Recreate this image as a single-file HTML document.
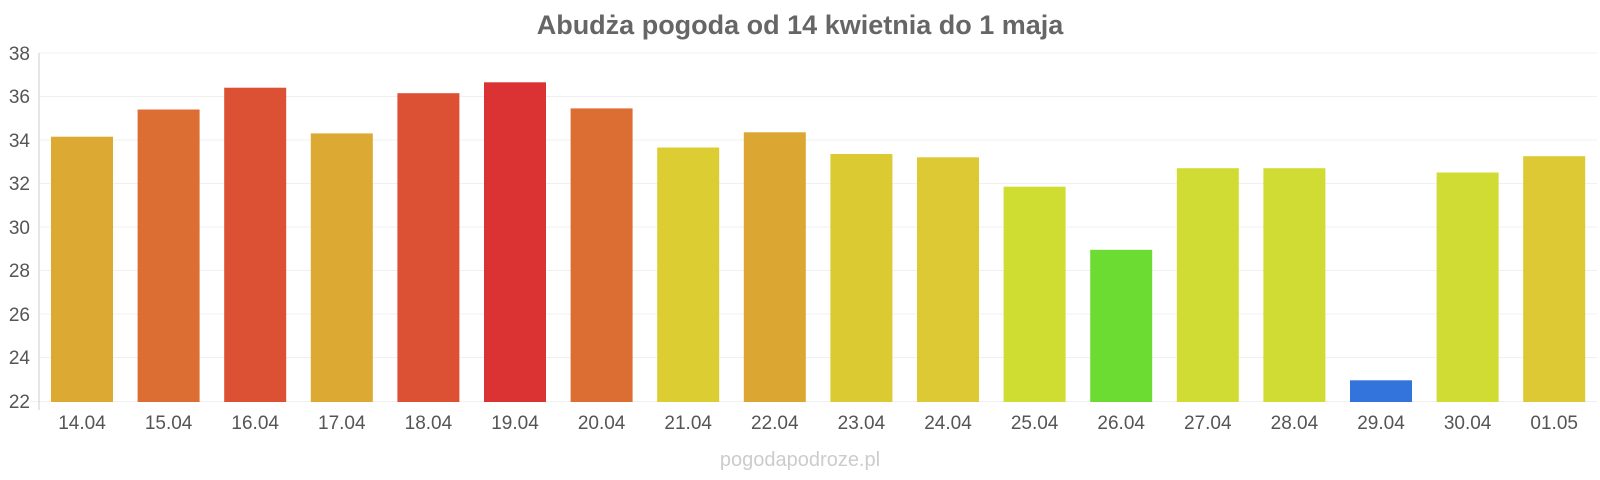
<!DOCTYPE html>
<html><head><meta charset="utf-8"><style>body{margin:0;background:#fff}svg{display:block}</style></head><body>
<svg width="1600" height="480" xmlns="http://www.w3.org/2000/svg" font-family="Liberation Sans, sans-serif">
<text x="800" y="34" text-anchor="middle" font-size="27" font-weight="bold" fill="#666">Abudża pogoda od 14 kwietnia do 1 maja</text>
<g stroke="#f0f0f0" stroke-width="1">
<line x1="39" x2="1597" y1="53" y2="53"/><line x1="39" x2="1597" y1="96.5" y2="96.5"/><line x1="39" x2="1597" y1="140" y2="140"/><line x1="39" x2="1597" y1="183.5" y2="183.5"/><line x1="39" x2="1597" y1="227" y2="227"/><line x1="39" x2="1597" y1="270.5" y2="270.5"/><line x1="39" x2="1597" y1="314" y2="314"/><line x1="39" x2="1597" y1="357.5" y2="357.5"/><line x1="30" x2="1597" y1="401.5" y2="401.5"/>
</g>
<line x1="39" x2="39" y1="53" y2="410" stroke="#ccc"/>
<g font-size="19" fill="#555" text-anchor="end">
<text x="30" y="60">38</text><text x="30" y="103">36</text><text x="30" y="147">34</text><text x="30" y="190">32</text><text x="30" y="234">30</text><text x="30" y="277">28</text><text x="30" y="321">26</text><text x="30" y="364">24</text><text x="30" y="408">22</text>
</g>
<g>
<rect x="51" y="136.7" width="62" height="265.3" fill="#dca933"/>
<rect x="137.6" y="109.5" width="62" height="292.5" fill="#dc6e33"/>
<rect x="224.2" y="87.7" width="62" height="314.3" fill="#dc5033"/>
<rect x="310.8" y="133.4" width="62" height="268.6" fill="#dca933"/>
<rect x="397.4" y="93.2" width="62" height="308.8" fill="#dc5033"/>
<rect x="484" y="82.3" width="62" height="319.7" fill="#db3333"/>
<rect x="570.6" y="108.4" width="62" height="293.6" fill="#dc6e33"/>
<rect x="657.2" y="147.5" width="62" height="254.5" fill="#dccd33"/>
<rect x="743.8" y="132.3" width="62" height="269.7" fill="#dca633"/>
<rect x="830.4" y="154" width="62" height="248" fill="#dcca33"/>
<rect x="917" y="157.3" width="62" height="244.7" fill="#dcc933"/>
<rect x="1003.6" y="186.7" width="62" height="215.3" fill="#cfdd33"/>
<rect x="1090.2" y="249.8" width="62" height="152.2" fill="#6cdc33"/>
<rect x="1176.8" y="168.2" width="62" height="233.8" fill="#d0dc33"/>
<rect x="1263.4" y="168.2" width="62" height="233.8" fill="#d0dc33"/>
<rect x="1350" y="380.3" width="62" height="21.7" fill="#3374dc"/>
<rect x="1436.6" y="172.5" width="62" height="229.5" fill="#d0dc33"/>
<rect x="1523.2" y="156.2" width="62" height="245.8" fill="#dcc933"/>
</g>
<g font-size="19" fill="#555" text-anchor="middle">
<text x="82" y="429">14.04</text><text x="168.6" y="429">15.04</text><text x="255.2" y="429">16.04</text><text x="341.8" y="429">17.04</text><text x="428.4" y="429">18.04</text><text x="515" y="429">19.04</text><text x="601.6" y="429">20.04</text><text x="688.2" y="429">21.04</text><text x="774.8" y="429">22.04</text><text x="861.4" y="429">23.04</text><text x="948" y="429">24.04</text><text x="1034.6" y="429">25.04</text><text x="1121.2" y="429">26.04</text><text x="1207.8" y="429">27.04</text><text x="1294.4" y="429">28.04</text><text x="1381" y="429">29.04</text><text x="1467.6" y="429">30.04</text><text x="1554.2" y="429">01.05</text>
</g>
<text x="800" y="466" text-anchor="middle" font-size="20" fill="#ccc">pogodapodroze.pl</text>
</svg>
</body></html>
